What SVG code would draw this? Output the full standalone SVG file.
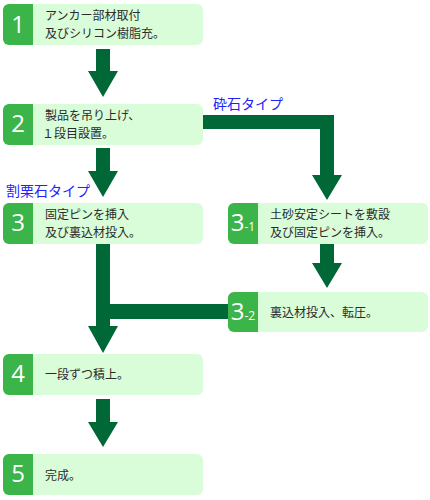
<svg xmlns="http://www.w3.org/2000/svg" width="430" height="500" viewBox="0 0 430 500">
<style>
.box{fill:#d9fcd9}
.tab{fill:#3bb44a}
.num{font-family:"Open Sans","DejaVu Sans",sans-serif;font-size:24px;fill:#ffffff;text-anchor:middle}
.sub{font-size:12px}
.txt{font-family:"Noto Sans CJK JP",sans-serif;font-size:12px;fill:#2b2b2b}
.lbl{font-family:"Noto Sans CJK JP",sans-serif;font-size:14px;fill:#2222ff}
.arr{fill:#006837}
</style>
<rect width="430" height="500" fill="#ffffff"/>
<g id="connectors">
<polygon class="arr" points="96,49 110,49 110,71 118,71 103,97 88,71 96,71"/>
<polygon class="arr" points="96,148 110,148 110,171 118,171 103,197 88,171 96,171"/>
<polygon class="arr" points="200,115 334,115 334,175 342,175 327,200 312,175 320,175 320,129 200,129"/>
<polygon class="arr" points="320,244 334,244 334,263 342,263 327,288 312,263 320,263"/>
<polygon class="arr" points="96,244 110,244 110,304 232,304 232,319 110,319 110,326 118,326 103,353 88,326 96,326"/>
<polygon class="arr" points="96,399 110,399 110,422 118,422 103,447 88,422 96,422"/>
</g>
<g id="label-saiseki"><text class="lbl" x="213" y="109">砕石タイプ</text></g>
<g id="label-wariguri"><text class="lbl" x="6" y="196">割栗石タイプ</text></g>
<g id="n1">
<rect class="box" x="3" y="4" width="200" height="41" rx="6"/>
<path class="tab" d="M33,4 V45 H9 A6,6 0 0 1 3,39 V10 A6,6 0 0 1 9,4 Z"/>
<text class="num" x="18" y="33">1</text>
<text class="txt" x="45" y="20">アンカー部材取付</text>
<text class="txt" x="45" y="38">及びシリコン樹脂充。</text>
</g>
<g id="n2">
<rect class="box" x="3" y="104" width="200" height="41" rx="6"/>
<path class="tab" d="M33,104 V145 H9 A6,6 0 0 1 3,139 V110 A6,6 0 0 1 9,104 Z"/>
<text class="num" x="18" y="132">2</text>
<text class="txt" x="45" y="120">製品を吊り上げ、</text>
<text class="txt" x="42" y="138">１段目設置。</text>
</g>
<g id="n3">
<rect class="box" x="3" y="203" width="200" height="41" rx="6"/>
<path class="tab" d="M33,203 V244 H9 A6,6 0 0 1 3,238 V209 A6,6 0 0 1 9,203 Z"/>
<text class="num" x="18" y="231">3</text>
<text class="txt" x="45" y="219">固定ピンを挿入</text>
<text class="txt" x="45" y="237">及び裏込材投入。</text>
</g>
<g id="n3-1">
<rect class="box" x="228" y="203" width="200" height="41" rx="6"/>
<path class="tab" d="M258,203 V244 H234 A6,6 0 0 1 228,238 V209 A6,6 0 0 1 234,203 Z"/>
<text class="num" x="243" y="231">3<tspan class="sub">-1</tspan></text>
<text class="txt" x="270" y="219">土砂安定シートを敷設</text>
<text class="txt" x="270" y="237">及び固定ピンを挿入。</text>
</g>
<g id="n3-2">
<rect class="box" x="228" y="292" width="200" height="40" rx="6"/>
<path class="tab" d="M258,292 V332 H234 A6,6 0 0 1 228,326 V298 A6,6 0 0 1 234,292 Z"/>
<text class="num" x="243" y="320">3<tspan class="sub">-2</tspan></text>
<text class="txt" x="270" y="317">裏込材投入、転圧。</text>
</g>
<g id="n4">
<rect class="box" x="3" y="354" width="200" height="41" rx="6"/>
<path class="tab" d="M33,354 V395 H9 A6,6 0 0 1 3,389 V360 A6,6 0 0 1 9,354 Z"/>
<text class="num" x="18" y="382">4</text>
<text class="txt" x="45" y="379">一段ずつ積上。</text>
</g>
<g id="n5">
<rect class="box" x="3" y="454" width="200" height="41" rx="6"/>
<path class="tab" d="M33,454 V495 H9 A6,6 0 0 1 3,489 V460 A6,6 0 0 1 9,454 Z"/>
<text class="num" x="18" y="482">5</text>
<text class="txt" x="45" y="480">完成。</text>
</g>
</svg>
